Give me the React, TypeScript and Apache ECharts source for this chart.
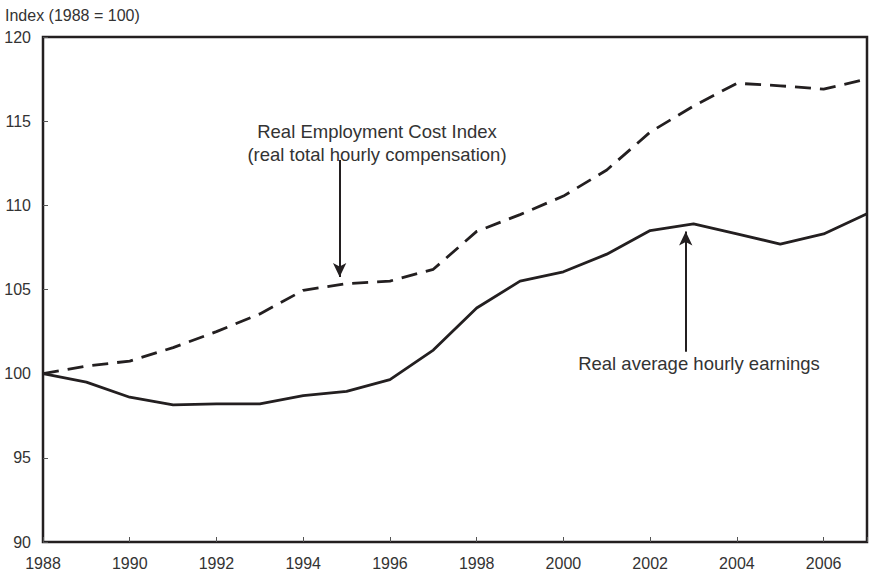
import React, { useEffect, useRef } from "react";
import * as echarts from "echarts";

const years = [1988, 1989, 1990, 1991, 1992, 1993, 1994, 1995, 1996, 1997, 1998, 1999, 2000, 2001, 2002, 2003, 2004, 2005, 2006, 2007];
const realEci = [100, 100.45, 100.75, 101.55, 102.5, 103.55, 104.95, 105.35, 105.5, 106.2, 108.45, 109.45, 110.55, 112.1, 114.35, 115.9, 117.25, 117.1, 116.9, 117.5];
const realAhe = [100, 99.5, 98.6, 98.15, 98.2, 98.2, 98.7, 98.95, 99.65, 101.4, 103.9, 105.5, 106.05, 107.1, 108.5, 108.9, 108.3, 107.7, 108.3, 109.5];
const yTicks = [90, 95, 100, 105, 110, 115, 120];

const INK = "#231f20";
const TXT = "#333333";
const FONT = "'Liberation Sans', Arial, sans-serif";

export default function App() {
  const ref = useRef<HTMLDivElement>(null);
  useEffect(() => {
    if (!ref.current) return;
    const chart = echarts.init(ref.current, undefined, { renderer: "svg" });
    const eciData = years.map((y, i) => [y, realEci[i]]);
    const aheData = years.map((y, i) => [y, realAhe[i]]);
    chart.setOption({
      animation: false,
      textStyle: { fontFamily: FONT },
      title: {
        text: "Index (1988 = 100)",
        left: 0,
        top: 2,
        textStyle: { fontSize: 16, fontWeight: "normal", color: TXT, fontFamily: FONT },
      },
      grid: {
        left: 43,
        right: 3,
        top: 37,
        bottom: 33,
        show: true,
        borderColor: INK,
        borderWidth: 2.5,
        backgroundColor: "transparent",
      },
      xAxis: {
        type: "value",
        min: 1988,
        max: 2007,
        interval: 2,
        axisLine: { show: false },
        axisTick: { show: true, inside: true, length: 5, lineStyle: { color: "#555", width: 1 } },
        splitLine: { show: false },
        axisLabel: {
          color: TXT,
          fontSize: 16,
          margin: 13,
          fontFamily: FONT,
          formatter: (v: number) => (v % 2 === 0 ? String(v) : ""),
        },
      },
      yAxis: {
        type: "value",
        min: yTicks[0],
        max: yTicks[yTicks.length - 1],
        interval: 5,
        axisLine: { show: false },
        axisTick: { show: true, inside: true, length: 5, lineStyle: { color: "#555", width: 1 } },
        splitLine: { show: false },
        axisLabel: { color: TXT, fontSize: 16, margin: 12, fontFamily: FONT },
      },
      series: [
        {
          type: "line",
          name: "Real Employment Cost Index",
          data: eciData,
          symbol: "none",
          lineStyle: { color: INK, width: 2.8, type: [16, 9] },
          markLine: {
            silent: true,
            symbol: ["none", "arrow"],
            symbolSize: [10, 14],
            label: { show: false },
            lineStyle: { color: INK, width: 2, type: "solid" },
            data: [[{ coord: [1994.84, 112.7] }, { coord: [1994.84, 105.75] }]],
          },
        },
        {
          type: "line",
          name: "Real average hourly earnings",
          data: aheData,
          symbol: "none",
          lineStyle: { color: INK, width: 2.8, type: "solid" },
          markLine: {
            silent: true,
            symbol: ["none", "arrow"],
            symbolSize: [10, 14],
            label: { show: false },
            lineStyle: { color: INK, width: 2, type: "solid" },
            data: [[{ coord: [2002.82, 101.3] }, { coord: [2002.82, 108.45] }]],
          },
        },
      ],
      graphic: [
        {
          type: "text",
          x: 377,
          y: 131,
          style: {
            text: "Real Employment Cost Index",
            fill: TXT,
            fontSize: 18.5,
            fontFamily: FONT,
            align: "center",
            verticalAlign: "middle",
          },
        },
        {
          type: "text",
          x: 377,
          y: 154,
          style: {
            text: "(real total hourly compensation)",
            fill: TXT,
            fontSize: 18.5,
            fontFamily: FONT,
            align: "center",
            verticalAlign: "middle",
          },
        },
        {
          type: "text",
          x: 699,
          y: 363,
          style: {
            text: "Real average hourly earnings",
            fill: TXT,
            fontSize: 18.5,
            fontFamily: FONT,
            align: "center",
            verticalAlign: "middle",
          },
        },
      ],
    });
    return () => chart.dispose();
  }, []);
  return (
    <div
      ref={ref}
      style={{ position: "fixed", left: 0, top: 0, width: 870, height: 575, background: "#fff" }}
    />
  );
}
